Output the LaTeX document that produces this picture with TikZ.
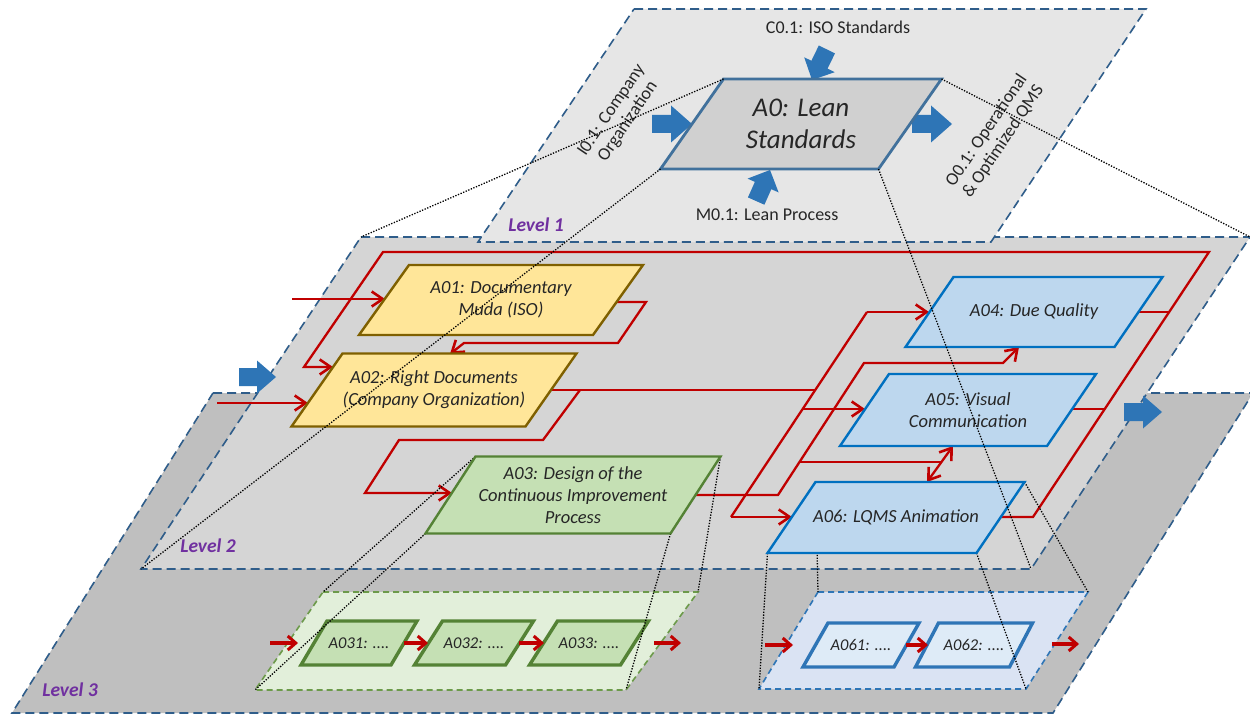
\documentclass[tikz,border=0pt]{standalone}
\usepackage{fontspec}
\setmainfont{Carlito}
\usetikzlibrary{arrows.meta,calc}
\definecolor{planeblue}{HTML}{2F5D8A}
\definecolor{lvlone}{HTML}{E6E6E6}
\definecolor{lvltwo}{HTML}{D5D5D5}
\definecolor{lvlthree}{HTML}{BFBFBF}
\definecolor{redc}{HTML}{C00000}
\definecolor{yelfill}{HTML}{FFE699}
\definecolor{yeldraw}{HTML}{7F6000}
\definecolor{grnfill}{HTML}{C5E0B4}
\definecolor{grndraw}{HTML}{548235}
\definecolor{blufill}{HTML}{BDD7EE}
\definecolor{bludraw}{HTML}{0070C0}
\definecolor{ltblufill}{HTML}{DEEBF7}
\definecolor{midblue}{HTML}{2E75B6}
\definecolor{grnplane}{HTML}{E2EFDA}
\definecolor{grnplanedraw}{HTML}{6C9A4A}
\definecolor{bluplane}{HTML}{DAE3F3}
\definecolor{azerodraw}{HTML}{41719C}
\definecolor{azerofill}{HTML}{D0D0D0}
\definecolor{purp}{HTML}{7030A0}
\definecolor{txt}{HTML}{262626}

% #1 node style, #2 name, #3 cx, #4 cy, #5 half width, #6 half height, #7 skew shift, #8 path style, #9 text
\newcommand{\pbox}[9][boxtext]{%
  \coordinate (#2-tl) at ({#3-#5+#7},{#4-#6});
  \coordinate (#2-tr) at ({#3+#5+#7},{#4-#6});
  \coordinate (#2-br) at ({#3+#5-#7},{#4+#6});
  \coordinate (#2-bl) at ({#3-#5-#7},{#4+#6});
  \path[#8] (#2-tl) -- (#2-tr) -- (#2-br) -- (#2-bl) -- cycle;
  \node[#1] (#2) at (#3,#4) {#9};
}
% #1 name, #2 tip x, #3 tip y, #4 angle, #5 length, #6 head length, #7 head width
\newcommand{\blockarrow}[7]{%
  \coordinate (#1) at (#2,#3);
  \fill[midblue, shift={(#2,#3)}, rotate=#4] (0,0) -- (-#6,{#7/2}) -- (-#6,9) -- (-#5,9) -- (-#5,-9) -- (-#6,-9) -- (-#6,{-#7/2}) -- cycle;
}

\begin{document}
\begin{tikzpicture}[x=1pt,y=-1pt,
  planeedge/.style={draw=planeblue, line width=1.6pt, dash pattern=on 9pt off 5pt},
  redl/.style={draw=redc, line width=2.3pt},
  redtip/.tip={Straight Barb[length=11pt,width=15pt,line width=2.6pt]},
  redarr/.style={redl, -redtip},
  smallarr/.style={draw=redc, line width=3.6pt, -{Straight Barb[length=8pt,width=14pt,line width=3pt]}},
  proj/.style={draw=black, line width=1.3pt, dash pattern=on 1.3pt off 1.5pt},
  yelbox/.style={fill=yelfill, draw=yeldraw, line width=2.4pt},
  grnbox/.style={fill=grnfill, draw=grndraw, line width=2.4pt},
  blubox/.style={fill=blufill, draw=bludraw, line width=2.4pt},
  grnsub/.style={fill=grnfill, draw=grndraw, line width=3.4pt},
  blusub/.style={fill=ltblufill, draw=midblue, line width=3.4pt},
  azerobox/.style={fill=azerofill, draw=azerodraw, line width=2.8pt},
  boxtext/.style={font=\fontsize{18.5}{22}\selectfont\itshape, text=txt, align=center, inner sep=0pt},
  bigtext/.style={font=\fontsize{27}{32}\selectfont\itshape, text=txt, align=center, inner sep=0pt},
  subtext/.style={font=\fontsize{16.5}{20}\selectfont\itshape, text=txt, inner sep=0pt},
  plaintext/.style={font=\fontsize{18}{20}\selectfont, text=txt, align=center, inner sep=0pt},
  levellabel/.style={font=\fontsize{19.5}{22}\selectfont\bfseries\itshape, text=purp, inner sep=0pt}
]
\useasboundingbox (0,0) rectangle (1250,714);
\fill[white] (0,0) rectangle (1250,714);

% ---------------- Level 3 ----------------
\coordinate (L3-tl) at (213,393);
\coordinate (L3-tr) at (1253,393);
\coordinate (L3-br) at (1053,713);
\coordinate (L3-bl) at (12,713);
\path[fill=lvlthree, planeedge] (L3-tl) -- (L3-tr) -- (L3-br) -- (L3-bl) -- cycle;
\node[levellabel] (lev3) at (70,690) {Level 3};

\coordinate (G-tl) at (323,592);
\coordinate (G-tr) at (698,592);
\coordinate (G-br) at (626,690);
\coordinate (G-bl) at (255,690);
\path[fill=grnplane, draw=grnplanedraw, line width=1.6pt, dash pattern=on 6pt off 4pt] (G-tl) -- (G-tr) -- (G-br) -- (G-bl) -- cycle;

\coordinate (B-tl) at (818,592);
\coordinate (B-tr) at (1088,592);
\coordinate (B-br) at (1026,689);
\coordinate (B-bl) at (759,689);
\path[fill=bluplane, draw=midblue, line width=1.6pt, dash pattern=on 6pt off 4pt] (B-tl) -- (B-tr) -- (B-br) -- (B-bl) -- cycle;

\pbox[subtext]{A031}{359}{643}{45}{22}{13}{grnsub}{A031: ....}
\pbox[subtext]{A032}{474}{643}{45.5}{22}{14}{grnsub}{A032: ....}
\pbox[subtext]{A033}{589}{643}{45.5}{22}{14}{grnsub}{A033: ....}
\pbox[subtext]{A061}{861}{645}{45.5}{22}{12.5}{blusub}{A061: ....}
\pbox[subtext]{A062}{974}{645}{47}{22}{11.5}{blusub}{A062: ....}

\coordinate (g-in) at (270,643);
\coordinate (g-in-end) at (298,643);
\coordinate (a31-out) at (404,643);
\coordinate (a32-in) at (428,643);
\coordinate (a32-out) at (519,643);
\coordinate (a33-in) at (544,643);
\coordinate (g-out) at (654,643);
\coordinate (g-out-end) at (681,643);
\coordinate (b-in) at (765,645);
\coordinate (b-in-end) at (793,645);
\coordinate (a61-out) at (906,645);
\coordinate (a62-in) at (928,645);
\coordinate (b-out) at (1052,644);
\coordinate (b-out-end) at (1079,644);
\draw[smallarr] (g-in) -- (g-in-end);
\draw[smallarr] (a31-out) -- (a32-in);
\draw[smallarr] (a32-out) -- (a33-in);
\draw[smallarr] (g-out) -- (g-out-end);
\draw[smallarr] (b-in) -- (b-in-end);
\draw[smallarr] (a61-out) -- (a62-in);
\draw[smallarr] (b-out) -- (b-out-end);

% ---------------- Level 2 ----------------
\coordinate (L2-tl) at (361,237);
\coordinate (L2-tr) at (1250,237);
\coordinate (L2-br) at (1031,569);
\coordinate (L2-bl) at (141,569);
\path[fill=lvltwo, planeedge] (L2-tl) -- (L2-tr) -- (L2-br) -- (L2-bl) -- cycle;
\node[levellabel] (lev2) at (208,546) {Level 2};

% ports
\coordinate (in1) at (292,299);
\coordinate (p01in) at (385,299);
\coordinate (in2) at (217,403);
\coordinate (p02inA) at (308,403);
\coordinate (p02inB) at (333,367);
\coordinate (p01out) at (614,302);
\coordinate (p02top) at (450,354);
\coordinate (p02out) at (549,390);
\coordinate (p03in) at (452,493);
\coordinate (p03out) at (693,495);
\coordinate (p04in) at (929,312);
\coordinate (p04bot) at (1019,347);
\coordinate (p04out) at (1136,312);
\coordinate (p05in) at (865,409);
\coordinate (p05out) at (1070,409);
\coordinate (p05bot) at (953,446);
\coordinate (p06top) at (927,482);
\coordinate (p06in) at (792,517);
\coordinate (p06out) at (998,517);

% red connectors
\draw[redarr] (in1) -- (p01in);
\draw[redarr] (in2) -- (p02inA);
\draw[redarr] (p01out) -- (646,302) -- (618,343) -- (464,343) -- (p02top);
\draw[redl] (p02out) -- (815.3,390);
\draw[redarr] (580,390) -- (543,440) -- (399,440) -- (365,493) -- (p03in);
\draw[redl] (867,312) -- (731,517);
\draw[redarr] (867,312) -- (p04in);
\draw[redarr] (731,517) -- (p06in);
\draw[redarr] (802.6,409) -- (p05in);
\draw[redarr] (p03out) -- (778,495) -- (864,363) -- (1003,363) -- (p04bot);
\draw[redl] (799.5,462) -- (941.4,462);
\draw[redl, redtip-redtip] (p05bot) -- (p06top);
\draw[redarr] (p06out) -- (1033,517) -- (1209,252) -- (383,252) -- (304,367) -- (p02inB);
\draw[redl] (p04out) -- (1169.2,312);
\draw[redl] (p05out) -- (1104.7,409);

% boxes of level 2
\pbox{A01}{501}{300}{117}{35}{25}{yelbox}{A01: Documentary\\Muda (ISO)}
\pbox{A02}{434}{390}{117}{36.5}{25.5}{yelbox}{A02: Right Documents\\(Company Organization)}
\pbox{A04}{1034}{312}{104.5}{35}{24}{blubox}{A04: Due Quality}
\pbox{A05}{968}{410}{103.5}{36}{24.5}{blubox}{A05: Visual\\Communication}

% projection lines A03 / A06 -> level 3 (under the boxes)
\coordinate (A03-tl) at (475.5,456.5);
\coordinate (A03-tr) at (720.5,456.5);
\coordinate (A03-br) at (670.5,533.5);
\coordinate (A03-bl) at (425.5,533.5);
\coordinate (A06-tl) at (815.5,482);
\coordinate (A06-tr) at (1024.5,482);
\coordinate (A06-br) at (976.5,553);
\coordinate (A06-bl) at (767.5,553);
\draw[proj] (A03-tl) -- (G-tl);
\draw[proj] (A03-bl) -- (G-bl);
\draw[proj] (A03-tr) -- (G-tr);
\draw[proj] (A03-br) -- (G-br);
\draw[proj] (A06-tl) -- (B-tl);
\draw[proj] (A06-bl) -- (B-bl);
\draw[proj] (A06-tr) -- (B-tr);
\draw[proj] (A06-br) -- (B-br);

\pbox{A03}{573}{495}{122.5}{38.5}{25}{grnbox}{A03: Design of the\\Continuous Improvement\\Process}
\pbox{A06}{896}{517.5}{104.5}{35.5}{24}{blubox}{A06: LQMS Animation}

% ---------------- Level 1 ----------------
\coordinate (L1-tl) at (634,9);
\coordinate (L1-tr) at (1146,9);
\coordinate (L1-br) at (991,242);
\coordinate (L1-bl) at (478,242);
\path[fill=lvlone, planeedge] (L1-tl) -- (L1-tr) -- (L1-br) -- (L1-bl) -- cycle;
\node[levellabel] (lev1) at (536,225) {Level 1};

\blockarrow{arrC}{812}{80}{-116}{34}{17}{34}
\blockarrow{arrM}{770}{170}{66}{34}{17}{34}
\blockarrow{arrI}{692}{124}{0}{40}{21}{37}
\blockarrow{arrO}{952}{124}{0}{40}{21}{37}

\pbox[bigtext]{A0}{801}{124}{109}{45}{31.5}{azerobox}{A0: Lean\\Standards}

\node[plaintext] (c01) at (838,27) {C0.1: ISO Standards};
\node[plaintext] (m01) at (767,215) {M0.1: Lean Process};
\node[plaintext, rotate=56] (i01) at (620,116) {I0.1: Company\\Organization};
\node[plaintext, rotate=56] (o01) at (995,136) {O0.1: Operational\\\& Optimized QMS};

% projection lines A0 -> level 2
\draw[proj] (A0-tl) -- (L2-tl);
\draw[proj] (A0-bl) -- (L2-bl);
\draw[proj] (A0-tr) -- (L2-tr);
\draw[proj] (A0-br) -- (L2-br);

% level 2 input / output block arrows
\blockarrow{arrL2in}{276}{377}{0}{37}{19}{33}
\blockarrow{arrL2out}{1162}{412}{0}{38}{19}{33}
\end{tikzpicture}
\end{document}
